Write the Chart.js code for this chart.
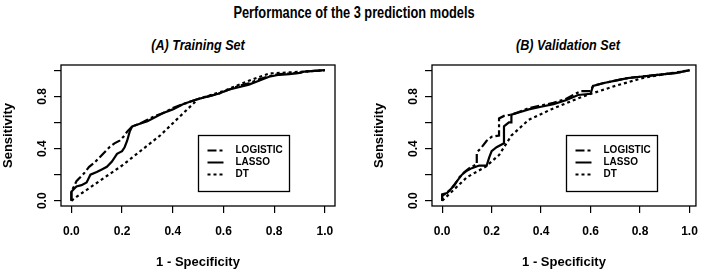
<!DOCTYPE html>
<html>
<head>
<meta charset="utf-8">
<script src="https://cdn.jsdelivr.net/npm/chart.js@4.4.1/dist/chart.umd.min.js"></script>
<style>
  body { margin: 0; background: #fff; font-family: "Liberation Sans", Arial, sans-serif; }
  #wrap { position: relative; width: 709px; height: 272px; overflow: hidden; }
  .t { position: absolute; white-space: nowrap; color: #000; }
  #main { left: 354px; top: 13px; font-weight: bold; font-size: 16px; transform: translate(-50%, -50%) scaleX(0.8); }
  .sub { top: 45px; font-weight: bold; font-style: italic; font-size: 14px; transform: translate(-50%, -50%) scaleX(0.9); }
  canvas { position: absolute; top: 0; }
</style>
</head>
<body>
<div id="wrap">
  <div id="main" class="t">Performance of the 3 prediction models</div>
  <div class="t sub" style="left:198px">(A) Training Set</div>
  <div class="t sub" style="left:568px">(B) Validation Set</div>
  <canvas id="chartA" width="354" height="272" style="left:0"></canvas>
  <canvas id="chartB" width="355" height="272" style="left:354px"></canvas>
</div>
<script>
// ── ROC curves (x = 1 - specificity, y = sensitivity) ──
const seriesNames = ['LOGISTIC', 'LASSO', 'DT'];
const xTicks = [0, 0.2, 0.4, 0.6, 0.8, 1.0];
const xTickLabels = ['0.0', '0.2', '0.4', '0.6', '0.8', '1.0'];
const yTicks = [0, 0.2, 0.4, 0.6, 0.8, 1.0];
const yTickLabels = ['0.0', '', '0.4', '', '0.8', ''];

// (A) training set
const trainLogisticX = [0, 0, 0.02, 0.03, 0.05, 0.07, 0.09, 0.11, 0.13, 0.15, 0.17, 0.19, 0.21, 0.22, 0.24, 0.27, 0.3, 0.33, 0.36, 0.4, 0.44, 0.47, 0.5, 0.54, 0.58, 0.62, 0.66, 0.7, 0.74, 0.78, 0.82, 0.86, 0.9, 0.92, 0.96, 1];
const trainLogisticY = [0, 0.07, 0.15, 0.17, 0.21, 0.26, 0.29, 0.33, 0.37, 0.41, 0.44, 0.46, 0.5, 0.53, 0.57, 0.59, 0.62, 0.65, 0.67, 0.71, 0.74, 0.76, 0.78, 0.8, 0.82, 0.85, 0.88, 0.9, 0.93, 0.955, 0.97, 0.975, 0.98, 0.99, 0.995, 1];
const trainLassoX = [0, 0, 0.01, 0.02, 0.04, 0.06, 0.075, 0.1, 0.12, 0.14, 0.16, 0.18, 0.2, 0.21, 0.22, 0.23, 0.24, 0.27, 0.3, 0.33, 0.36, 0.4, 0.44, 0.47, 0.5, 0.54, 0.58, 0.62, 0.66, 0.7, 0.74, 0.78, 0.82, 0.86, 0.9, 0.92, 0.96, 1];
const trainLassoY = [0, 0.07, 0.09, 0.11, 0.12, 0.14, 0.2, 0.22, 0.24, 0.26, 0.3, 0.36, 0.38, 0.41, 0.46, 0.53, 0.57, 0.59, 0.61, 0.64, 0.67, 0.7, 0.74, 0.76, 0.78, 0.8, 0.82, 0.85, 0.87, 0.89, 0.92, 0.95, 0.965, 0.97, 0.98, 0.99, 0.995, 1];
const trainDtX = [0, 0.02, 0.2, 0.35, 0.5, 0.6, 0.7, 0.78, 0.92, 1];
const trainDtY = [0, 0.03, 0.27, 0.5, 0.78, 0.84, 0.92, 0.975, 0.99, 1];

// (B) validation set
const valLogisticX = [0, 0, 0.01, 0.03, 0.05, 0.07, 0.09, 0.11, 0.13, 0.14, 0.14, 0.16, 0.18, 0.2, 0.23, 0.23, 0.25, 0.28, 0.31, 0.35, 0.4, 0.45, 0.5, 0.53, 0.56, 0.6, 0.61, 0.65, 0.7, 0.75, 0.8, 0.85, 0.9, 0.95, 0.97, 1];
const valLogisticY = [0, 0.04, 0.05, 0.08, 0.12, 0.18, 0.22, 0.25, 0.27, 0.28, 0.37, 0.41, 0.46, 0.49, 0.5, 0.63, 0.65, 0.66, 0.68, 0.71, 0.73, 0.75, 0.78, 0.81, 0.84, 0.84, 0.88, 0.9, 0.92, 0.94, 0.95, 0.96, 0.97, 0.98, 0.99, 1];
const valLassoX = [0, 0, 0.02, 0.04, 0.06, 0.08, 0.1, 0.12, 0.15, 0.18, 0.19, 0.2, 0.22, 0.25, 0.25, 0.27, 0.28, 0.28, 0.3, 0.35, 0.4, 0.45, 0.5, 0.55, 0.6, 0.61, 0.65, 0.7, 0.75, 0.8, 0.85, 0.9, 0.95, 1];
const valLassoY = [0, 0.05, 0.06, 0.1, 0.15, 0.2, 0.23, 0.25, 0.27, 0.27, 0.33, 0.38, 0.41, 0.44, 0.57, 0.6, 0.6, 0.66, 0.67, 0.7, 0.72, 0.74, 0.77, 0.81, 0.82, 0.88, 0.9, 0.92, 0.94, 0.95, 0.96, 0.97, 0.98, 1];
const valDtX = [0, 0.05, 0.1, 0.175, 0.23, 0.28, 0.35, 0.44, 0.57, 0.7, 0.81, 0.9, 1];
const valDtY = [0, 0.09, 0.18, 0.26, 0.35, 0.5, 0.62, 0.7, 0.8, 0.88, 0.94, 0.97, 1];

const dashes = [[9, 3, 3, 3], [], [3, 3]];
const FONT = '"Liberation Sans", Arial, sans-serif';

const zip = (xs, ys) => xs.map((x, i) => ({ x, y: ys[i] }));

// box round the plot region + legend inset, R style
const framePlugin = {
  id: 'frame',
  afterDatasetsDraw(chart) {
    const { ctx, chartArea: a, scales } = chart;
    ctx.save();
    ctx.strokeStyle = '#000';
    ctx.lineWidth = 1.3;
    ctx.strokeRect(a.left, a.top, a.right - a.left, a.bottom - a.top);

    // legend
    const lx = Math.round(scales.x.getPixelForValue(0.5)) + 0.5;
    const ly = Math.round(scales.y.getPixelForValue(0.505)) + 0.5;
    const w = 91, h = 56;
    ctx.fillStyle = '#fff';
    ctx.fillRect(lx, ly, w, h);
    ctx.strokeRect(lx, ly, w, h);
    ctx.font = 'bold 10px ' + FONT;
    ctx.textBaseline = 'middle';
    ctx.fillStyle = '#000';
    chart.data.datasets.forEach((ds, i) => {
      const ry = ly + 15 + i * 12;
      ctx.lineWidth = 2;
      ctx.setLineDash(ds.borderDash);
      ctx.beginPath();
      ctx.moveTo(lx + 9, ry);
      ctx.lineTo(lx + 25, ry);
      ctx.stroke();
      ctx.setLineDash([]);
      ctx.fillText(ds.label, lx + 37, ry);
    });
    ctx.restore();
  }
};

function makePanel(id, xs, ys, opts) {
  const tickFont = { family: FONT, weight: 'bold', size: 12 };
  const titleFont = { family: FONT, weight: 'bold', size: 13 };
  return new Chart(document.getElementById(id), {
    type: 'line',
    data: {
      datasets: seriesNames.map((name, i) => ({
        label: name,
        data: zip(xs[i], ys[i]),
        borderColor: '#000',
        borderWidth: 2.2,
        borderDash: dashes[i],
        pointRadius: 0,
        tension: 0,
        fill: false
      }))
    },
    options: {
      responsive: false,
      animation: false,
      devicePixelRatio: 1,
      layout: { padding: { left: 0, right: opts.padRight, top: 65, bottom: 0 } },
      plugins: { legend: { display: false }, tooltip: { enabled: false } },
      scales: {
        x: {
          type: 'linear', min: -0.041, max: opts.xMax,
          afterBuildTicks: s => { s.ticks = xTicks.map(v => ({ value: v })); },
          afterFit: s => { s.height = 66; },
          grid: { drawOnChartArea: false, drawTicks: true, tickLength: 7, color: '#000', lineWidth: 1.2 },
          border: { display: false },
          ticks: { color: '#000', font: tickFont, padding: 11, maxRotation: 0, autoSkip: false,
                   callback: (v, i) => xTickLabels[i] },
          title: { display: true, text: '1 - Specificity', color: '#000', font: titleFont, padding: { top: 0, bottom: 2 } }
        },
        y: {
          type: 'linear', min: -0.04, max: 1.04,
          afterBuildTicks: s => { s.ticks = yTicks.map(v => ({ value: v })); },
          afterFit: s => { s.width = opts.yWidth; },
          grid: { drawOnChartArea: false, drawTicks: true, tickLength: 7, color: '#000', lineWidth: 1.2 },
          border: { display: false },
          ticks: { color: '#000', font: tickFont, padding: 2.5, minRotation: 90, maxRotation: 90,
                   crossAlign: 'center', autoSkip: false, callback: (v, i) => yTickLabels[i] },
          title: { display: true, text: 'Sensitivity', color: '#000', font: titleFont, padding: { top: opts.yTitlePad, bottom: 0 } }
        }
      }
    },
    plugins: [framePlugin]
  });
}

makePanel('chartA',
  [trainLogisticX, trainLassoX, trainDtX],
  [trainLogisticY, trainLassoY, trainDtY],
  { padRight: 19, yWidth: 61, xMax: 1.04, yTitlePad: 1 });

makePanel('chartB',
  [valLogisticX, valLassoX, valDtX],
  [valLogisticY, valLassoY, valDtY],
  { padRight: 6, yWidth: 78, xMax: 1.026, yTitlePad: 18 });
</script>
</body>
</html>
